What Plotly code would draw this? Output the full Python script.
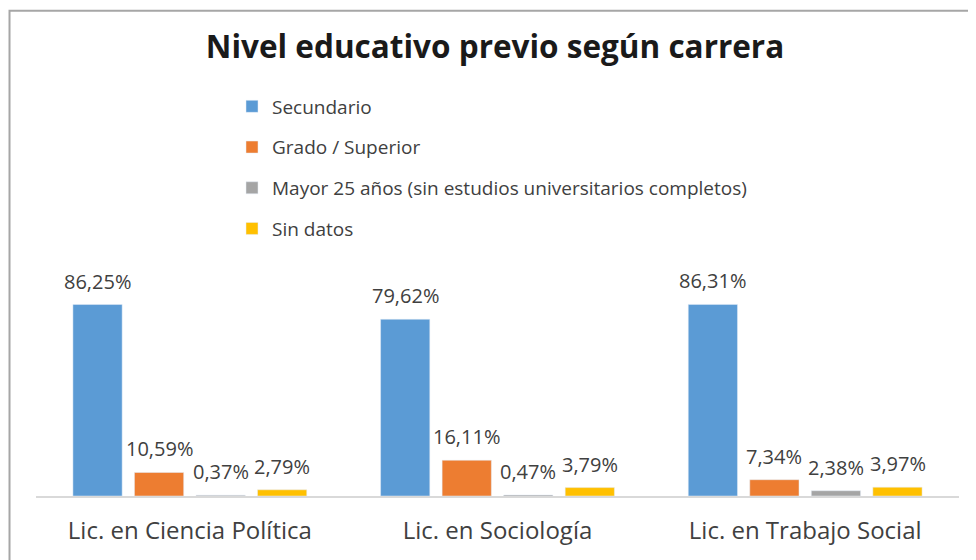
import plotly.graph_objects as go

categories = ["Lic. en Ciencia Política", "Lic. en Sociología", "Lic. en Trabajo Social"]
series_names = ["Secundario", "Grado / Superior",
                "Mayor 25 años (sin estudios universitarios completos)", "Sin datos"]
secundario = [86.25, 79.62, 86.31]
grado_superior = [10.59, 16.11, 7.34]
mayor_25 = [0.37, 0.47, 2.38]
sin_datos = [2.79, 3.79, 3.97]
title_text = "Nivel educativo previo según carrera"

colors = ["#5B9BD5", "#ED7D31", "#A5A5A5", "#FFC000"]
values = [secundario, grado_superior, mayor_25, sin_datos]

# page has an 8px body margin, so the figure is sized to fit the window
W, H = 968, 552
ML, MR, MT, MB = 27.5, 17, 265.5, 63.5
FONT = "Open Sans"
BARGAP, BARGROUPGAP = 0.2, 0.2

fig = go.Figure()
for i, (name, vals, col) in enumerate(zip(series_names, values, colors)):
    fig.add_trace(go.Bar(
        x=categories, y=vals, name=name, marker_color=col,
        legendgroup=f"g{i}", cliponaxis=False,
    ))

pw = W - ML - MR
ph = H - MT - MB
def px_x(p):
    return (p - ML) / pw
def px_y(p):
    return (H - MB - p) / ph

# value labels, placed over each bar of its group
slot = pw / len(categories) * (1 - BARGAP) / len(series_names)
annotations = []
for i, vals in enumerate(values):
    shift = (i - (len(series_names) - 1) / 2) * slot
    for cat, v in zip(categories, vals):
        annotations.append(dict(
            x=cat, y=v, xref="x", yref="y", xshift=shift, yshift=8,
            text=f"{v:.2f}%".replace(".", ","), showarrow=False,
            xanchor="center", yanchor="bottom",
            font=dict(family=FONT, size=20, color="#404040")))

fig.update_layout(
    width=W, height=H,
    margin=dict(l=ML, r=MR, t=MT, b=MB, autoexpand=False),
    paper_bgcolor="white", plot_bgcolor="white",
    separators=",.",
    barmode="group", bargap=BARGAP, bargroupgap=BARGROUPGAP,
    title=dict(text=title_text, x=(495 - 8) / W, xanchor="center", xref="container",
               y=1 - 39 / H, yanchor="middle", yref="container",
               font=dict(family=FONT, size=31.5, color="#1a1a1a", weight="bold")),
    legend=dict(orientation="v", x=224 / W, xanchor="left", xref="container",
                y=1 - 79.5 / H, yanchor="top", yref="container",
                font=dict(family=FONT, size=19, color="#404040"),
                tracegroupgap=13, bgcolor="rgba(0,0,0,0)"),
    showlegend=True,
    xaxis=dict(showline=True, linecolor="#d9d9d9", linewidth=1.5,
               showgrid=False, ticks="", ticklabelstandoff=12, tickangle=0,
               tickfont=dict(family=FONT, size=24, color="#404040")),
    yaxis=dict(range=[0, 100], visible=False, showgrid=False, zeroline=False),
    annotations=annotations,
    shapes=[dict(type="rect", xref="paper", yref="paper",
                 x0=px_x(1), x1=px_x(W + 20), y0=px_y(H + 20), y1=px_y(1),
                 line=dict(color="#a6a6a6", width=2), fillcolor="rgba(0,0,0,0)",
                 layer="above")],
)

fig.write_html("out.html")
